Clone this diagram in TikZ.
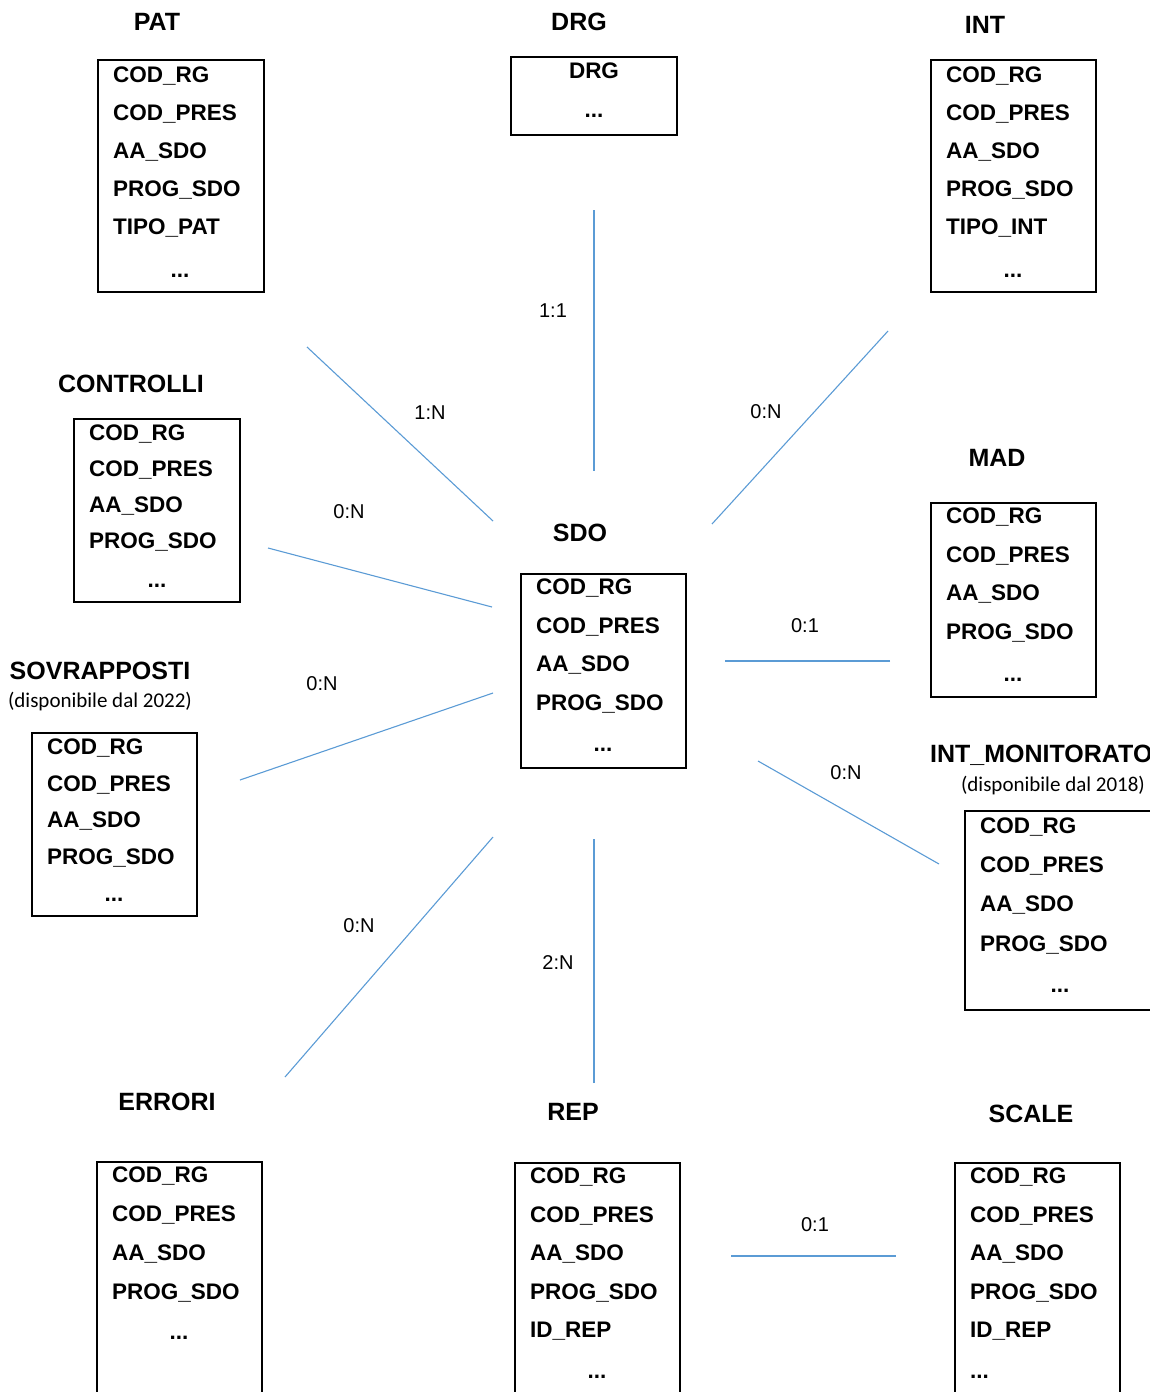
\documentclass[tikz,border=0pt]{standalone}
\usepackage{fontspec}
\setmainfont{Liberation Sans}
\newfontfamily\notefont{Carlito}
\definecolor{relblue}{RGB}{91,155,213}
\tikzset{
  ent/.style={draw,line width=1.8pt,anchor=north west,inner sep=0pt,outer sep=0pt},
  fld/.style={anchor=base west,inner sep=0pt,font=\fontsize{22.5}{22.5}\selectfont\bfseries},
  dots/.style={anchor=base,inner sep=0pt,font=\fontsize{22.5}{22.5}\selectfont\bfseries},
  ttl/.style={anchor=base,inner sep=0pt,font=\fontsize{25}{25}\selectfont\bfseries},
  sub/.style={inner sep=0pt,font=\fontsize{21}{21}\notefont},
  card/.style={inner sep=0pt,font=\fontsize{20}{20}\selectfont},
  rel/.style={draw=relblue,line width=1.1pt}
}
\begin{document}
\begin{tikzpicture}[x=1pt,y=-1pt]
\useasboundingbox (0,0) rectangle (1150,1392);
\clip (0,0) rectangle (1150,1392);
% PAT
\node[ttl] (pat-t) at (157,30) {PAT};
\node[ent,minimum width=166pt,minimum height=232pt] (pat) at (98,60) {};
\foreach \t [count=\i] in {COD\_RG,COD\_PRES,AA\_SDO,PROG\_SDO,TIPO\_PAT}
  \node[fld] (pat-\i) at (113,44+38*\i) {\t};
\node[dots] (pat-d) at (180,277) {...};
% DRG
\node[ttl] (drg-t) at (579,30) {DRG};
\node[ent,minimum width=166pt,minimum height=78pt] (drg) at (511,57) {};
\node[dots] (drg-1) at (594,78) {DRG};
\node[dots] (drg-d) at (594,117) {...};
% INT
\node[ttl] (int-t) at (985,33) {INT};
\node[ent,minimum width=165pt,minimum height=232pt] (int) at (931,60) {};
\foreach \t [count=\i] in {COD\_RG,COD\_PRES,AA\_SDO,PROG\_SDO,TIPO\_INT}
  \node[fld] (int-\i) at (946,44+38*\i) {\t};
\node[dots] (int-d) at (1013,277) {...};
% CONTROLLI
\node[ttl] (ctr-t) at (131,392) {CONTROLLI};
\node[ent,minimum width=166pt,minimum height=183pt] (ctr) at (74,419) {};
\foreach \t [count=\i] in {COD\_RG,COD\_PRES,AA\_SDO,PROG\_SDO}
  \node[fld] (ctr-\i) at (89,404+36*\i) {\t};
\node[dots] (ctr-d) at (157,587) {...};
% MAD
\node[ttl] (mad-t) at (997,466) {MAD};
\node[ent,minimum width=165pt,minimum height=194pt] (mad) at (931,503) {};
\foreach \t [count=\i] in {COD\_RG,COD\_PRES,AA\_SDO,PROG\_SDO}
  \node[fld] (mad-\i) at (946,485+38.5*\i) {\t};
\node[dots] (mad-d) at (1013,681) {...};
% SDO
\node[ttl] (sdo-t) at (580,541) {SDO};
\node[ent,minimum width=165pt,minimum height=194pt] (sdo) at (521,574) {};
\foreach \t [count=\i] in {COD\_RG,COD\_PRES,AA\_SDO,PROG\_SDO}
  \node[fld] (sdo-\i) at (536,556+38.5*\i) {\t};
\node[dots] (sdo-d) at (603,751) {...};
% SOVRAPPOSTI
\node[ttl] (sov-t) at (100,679) {SOVRAPPOSTI};
\node[sub] (sov-s) at (100,702) {(disponibile dal 2022)};
\node[ent,minimum width=165pt,minimum height=183pt] (sov) at (32,733) {};
\foreach \t [count=\i] in {COD\_RG,COD\_PRES,AA\_SDO,PROG\_SDO}
  \node[fld] (sov-\i) at (47,718+36.5*\i) {\t};
\node[dots] (sov-d) at (114,901) {...};
% INT_MONITORATO
\node[ttl,anchor=base west] (mon-t) at (930,762) {INT\_MONITORATO};
\node[sub] (mon-s) at (1053,786) {(disponibile dal 2018)};
\node[ent,minimum width=200pt,minimum height=199pt] (mon) at (965,811) {};
\foreach \t [count=\i] in {COD\_RG,COD\_PRES,AA\_SDO,PROG\_SDO}
  \node[fld] (mon-\i) at (980,794+39.3*\i) {\t};
\node[dots] (mon-d) at (1060,992) {...};
% ERRORI
\node[ttl] (err-t) at (167,1110) {ERRORI};
\node[ent,minimum width=165pt,minimum height=260pt] (err) at (97,1162) {};
\foreach \t [count=\i] in {COD\_RG,COD\_PRES,AA\_SDO,PROG\_SDO}
  \node[fld] (err-\i) at (112,1143+39*\i) {\t};
\node[dots] (err-d) at (179,1339) {...};
% REP
\node[ttl] (rep-t) at (573,1120) {REP};
\node[ent,minimum width=165pt,minimum height=260pt] (rep) at (515,1163) {};
\foreach \t [count=\i] in {COD\_RG,COD\_PRES,AA\_SDO,PROG\_SDO,ID\_REP}
  \node[fld] (rep-\i) at (530,1145+38.5*\i) {\t};
\node[dots] (rep-d) at (597,1378) {...};
% SCALE
\node[ttl] (sca-t) at (1031,1122) {SCALE};
\node[ent,minimum width=165pt,minimum height=260pt] (sca) at (955,1163) {};
\foreach \t [count=\i] in {COD\_RG,COD\_PRES,AA\_SDO,PROG\_SDO,ID\_REP}
  \node[fld] (sca-\i) at (970,1145+38.5*\i) {\t};
\node[fld] (sca-d) at (970,1378) {...};
% relazioni
\coordinate (drg-e) at (594,210);  \coordinate (sdo-n) at (594,471);
\coordinate (pat-e) at (307,347);  \coordinate (sdo-nw) at (493,521);
\coordinate (int-e) at (888,331);  \coordinate (sdo-ne) at (712,524);
\coordinate (ctr-e) at (268,548);  \coordinate (sdo-w1) at (492,607);
\coordinate (mad-e) at (890,661);  \coordinate (sdo-e) at (725,661);
\coordinate (sov-e) at (240,780);  \coordinate (sdo-w2) at (493,693);
\coordinate (mon-e) at (939,864);  \coordinate (sdo-se) at (758,761);
\coordinate (err-e) at (285,1077); \coordinate (sdo-sw) at (493,837);
\coordinate (rep-e) at (594,1083); \coordinate (sdo-s) at (594,839);
\coordinate (rep-r) at (731,1256); \coordinate (sca-e) at (896,1256);
\draw[rel] (drg-e) -- (sdo-n);
\draw[rel] (pat-e) -- (sdo-nw);
\draw[rel] (int-e) -- (sdo-ne);
\draw[rel] (ctr-e) -- (sdo-w1);
\draw[rel] (mad-e) -- (sdo-e);
\draw[rel] (sov-e) -- (sdo-w2);
\draw[rel] (mon-e) -- (sdo-se);
\draw[rel] (err-e) -- (sdo-sw);
\draw[rel] (rep-e) -- (sdo-s);
\draw[rel] (rep-r) -- (sca-e);
\node[card] (c-drg) at (553,311) {1:1};
\node[card] (c-pat) at (430,413) {1:N};
\node[card] (c-int) at (766,412) {0:N};
\node[card] (c-ctr) at (349,512) {0:N};
\node[card] (c-mad) at (805,626) {0:1};
\node[card] (c-sov) at (322,684) {0:N};
\node[card] (c-mon) at (846,773) {0:N};
\node[card] (c-err) at (359,926) {0:N};
\node[card] (c-rep) at (558,963) {2:N};
\node[card] (c-sca) at (815,1225) {0:1};
\end{tikzpicture}
\end{document}
